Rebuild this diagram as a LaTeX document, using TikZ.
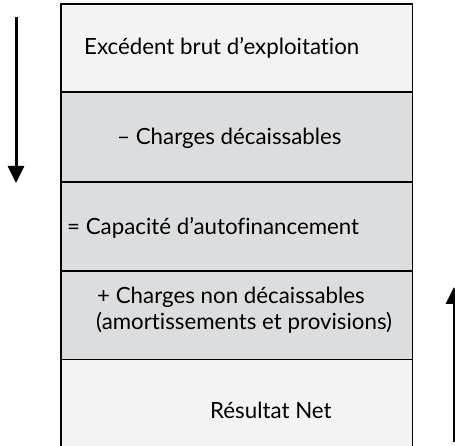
\documentclass[tikz,border=0pt]{standalone}
\usepackage{fontspec}
\setmainfont[Ligatures={NoCommon}]{Lato}
\usetikzlibrary{arrows.meta}
\definecolor{rowlight}{HTML}{F3F3F3}
\definecolor{rowgray}{HTML}{DCDDDF}
\tikzset{
  rowbox/.style={draw=black, line width=1.6pt, minimum width=351.5pt, inner sep=0pt, anchor=north west},
  lbl/.style={anchor=base west, inner sep=0pt, font=\fontsize{22.3}{26}\selectfont},
  flowarrow/.style={line width=3pt, -{Triangle[length=17pt,width=16pt]}}
}
\begin{document}
\begin{tikzpicture}[x=1pt,y=-1pt]
\useasboundingbox (0,0) rectangle (455,446);
\node[rowbox, fill=rowlight, minimum height=87.5pt] (r1) at (60,3.5) {};
\node[rowbox, fill=rowgray, minimum height=90pt] (r2) at (60,91) {};
\node[rowbox, fill=rowgray, minimum height=89pt] (r3) at (60,181) {};
\node[rowbox, fill=rowgray, minimum height=88.5pt] (r4) at (60,270) {};
\node[rowbox, fill=rowlight, minimum height=92pt] (r5) at (60,358.5) {};
\node[lbl] (t1) at (84,55) {Excédent brut d’exploitation};
\node[lbl] (t2) at (117,145) {– Charges décaissables};
\node[lbl] (t3) at (67,235) {= Capacité d’autofinancement};
\node[lbl] (t4) at (97,304) {+ Charges non décaissables};
\node[lbl] (t4b) at (96,329) {(amortissements et provisions)};
\node[lbl] (t5) at (210,418) {Résultat Net};
\coordinate (a1s) at (16,17);
\coordinate (a1e) at (16,183);
\coordinate (a2s) at (454,442);
\coordinate (a2e) at (454,287);
\draw[flowarrow] (a1s) -- (a1e);
\draw[flowarrow] (a2s) -- (a2e);
\end{tikzpicture}
\end{document}
